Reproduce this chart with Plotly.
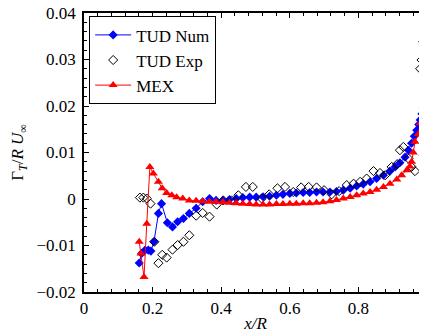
import plotly.graph_objects as go

# TUD Num (blue filled diamonds with line)
num_x = [0.161, 0.168, 0.178, 0.1875, 0.195, 0.204, 0.217, 0.226, 0.243, 0.258, 0.273, 0.290, 0.307,
         0.327, 0.346, 0.366, 0.385, 0.405, 0.424, 0.444, 0.463, 0.483, 0.502, 0.522, 0.541, 0.561,
         0.580, 0.600, 0.619, 0.639, 0.658, 0.678, 0.697, 0.717, 0.736, 0.756, 0.776, 0.795, 0.814,
         0.834, 0.853, 0.873, 0.892, 0.907, 0.921, 0.936, 0.946, 0.955, 0.963, 0.970, 0.976, 0.980,
         0.985, 0.989, 0.992, 0.995]
num_y = [-0.01375, -0.0117, -0.011, -0.011, -0.0112, -0.0092, -0.0031, -0.001, -0.0051, -0.006,
         -0.0049, -0.0042, -0.0031, -0.002, -0.0006, 0.0001, -0.0003, -0.0003, -0.0001, 0.0001,
         0.0003, 0.0004, 0.0004, 0.0005, 0.0006, 0.0008, 0.0010, 0.0012, 0.0013, 0.0014, 0.0014,
         0.0015, 0.0015, 0.0015, 0.0016, 0.0019, 0.0023, 0.0028, 0.0032, 0.0037, 0.0044, 0.0051,
         0.006, 0.0069, 0.0078, 0.009, 0.0105, 0.012, 0.0135, 0.0148, 0.016, 0.017, 0.0183, 0.0195,
         0.021, 0.0222]

# TUD Exp (open black diamonds)
exp_x = [0.163, 0.173, 0.183, 0.194, 0.205, 0.217, 0.228, 0.241, 0.258, 0.273, 0.290, 0.307, 0.327,
         0.346, 0.366, 0.387, 0.406, 0.430, 0.450, 0.472, 0.492, 0.518, 0.540, 0.564, 0.586, 0.610,
         0.633, 0.655, 0.678, 0.700, 0.722, 0.744, 0.766, 0.786, 0.805, 0.824, 0.844, 0.863, 0.878,
         0.897, 0.913, 0.921, 0.931, 0.946, 0.955, 0.965, 0.980, 0.984, 0.989, 0.994, 0.990, 0.990]
exp_y = [0.0003, 0.0003, 0.0001, -0.001, -0.0092, -0.0138, -0.012, -0.0126, -0.0109, -0.0099,
         -0.0092, -0.0078, -0.0036, -0.003, -0.0038, -0.0012, -0.0003, -0.0003, 0.0008, 0.0026,
         0.0026, 0.0001, 0.001, 0.0023, 0.0026, 0.0015, 0.0025, 0.0026, 0.0025, 0.0019, 0.001,
         0.0017, 0.003, 0.0033, 0.0037, 0.0044, 0.006, 0.0056, 0.0051, 0.0069, 0.0075, 0.0105,
         0.0112, 0.0087, 0.0069, 0.006, 0.028, 0.0299, 0.0338, 0.0327, 0.0277, 0.0094]

# MEX (red filled triangles with line)
mex_x = [0.161, 0.166, 0.175, 0.183, 0.192, 0.202, 0.217, 0.228, 0.241, 0.256, 0.270, 0.288, 0.307,
         0.327, 0.346, 0.366, 0.385, 0.405, 0.424, 0.444, 0.463, 0.483, 0.502, 0.522, 0.541, 0.561,
         0.580, 0.600, 0.619, 0.639, 0.658, 0.678, 0.697, 0.717, 0.736, 0.756, 0.776, 0.795, 0.814,
         0.834, 0.853, 0.873, 0.892, 0.912, 0.926, 0.941, 0.950, 0.955, 0.960, 0.965, 0.975, 0.980,
         0.989, 0.995]
mex_y = [-0.0092, -0.0117, -0.0168, -0.0053, 0.0069, 0.0055, 0.0037, 0.0023, 0.0013, 0.0008,
         0.0004, 0.0001, -0.0003, -0.0004, -0.0005, -0.0006, -0.0006, -0.0007, -0.0008, -0.0009,
         -0.0010, -0.0011, -0.0012, -0.0012, -0.0012, -0.0011, -0.0011, -0.0010, -0.0010, -0.0009,
         -0.0009, -0.0008, -0.0007, -0.0005, -0.0002, 0.0001, 0.00045, 0.0008, 0.0012, 0.0015,
         0.0020, 0.0026, 0.0033, 0.0042, 0.0051, 0.0062, 0.0070, 0.0080, 0.0100, 0.0123, 0.0140,
         0.0163, 0.0170, 0.0120]

x_ticks = [0, 0.2, 0.4, 0.6, 0.8, 1]
x_labels = ["0", "0.2", "0.4", "0.6", "0.8", "1"]
y_ticks = [-0.02, -0.01, 0, 0.01, 0.02, 0.03, 0.04]
y_labels = ["\u22120.02", "\u22120.01", "0", "0.01", "0.02", "0.03", "0.04"]

FONT = "Liberation Serif"
tick_font = dict(family=FONT, size=17, color="black")

fig = go.Figure()
fig.add_trace(go.Scatter(x=num_x, y=num_y, mode="lines+markers", name="TUD Num",
                         line=dict(color="#0000ff", width=1),
                         marker=dict(symbol="diamond", size=7, color="#0000ff")))
fig.add_trace(go.Scatter(x=exp_x, y=exp_y, mode="markers", name="TUD Exp",
                         marker=dict(symbol="diamond-open", size=7, color="black",
                                     line=dict(width=1, color="black"))))
fig.add_trace(go.Scatter(x=mex_x, y=mex_y, mode="lines+markers", name="MEX",
                         line=dict(color="#ff0000", width=1),
                         marker=dict(symbol="triangle-up", size=8, color="#ff0000")))

axis_common = dict(
    showgrid=False, zeroline=False, showline=True, linecolor="black", linewidth=1.5,
    mirror="ticks", ticks="inside", ticklen=5, tickcolor="black", tickwidth=1,
    automargin=False, ticklabeloverflow="allow",
)

fig.update_xaxes(range=[0, 1], tickmode="array", tickvals=x_ticks, ticktext=x_labels,
                 tickfont=tick_font,
                 minor=dict(dtick=0.04, ticks="inside", ticklen=3, tickcolor="black"),
                 title=dict(text="<i>x/R</i>", font=dict(family=FONT, size=17, color="black"), standoff=0),
                 **axis_common)
fig.update_yaxes(range=[-0.02, 0.04], tickmode="array", tickvals=y_ticks, ticktext=y_labels,
                 tickfont=tick_font,
                 minor=dict(dtick=0.002, ticks="inside", ticklen=3, tickcolor="black"),
                 ticklabelstandoff=3,
                 title=dict(text="\u0393<sub><i>T</i></sub>/<i>R U</i><sub>\u221e</sub>",
                            font=dict(family=FONT, size=17, color="black"), standoff=10),
                 **axis_common)

# page body has an 8px margin, so the figure is offset by 8px
fig.update_layout(
    width=427, height=333,
    margin=dict(l=76, r=8, t=5, b=49, pad=0),
    paper_bgcolor="white", plot_bgcolor="white",
    font=dict(family=FONT, size=17, color="black"),
    showlegend=True,
    legend=dict(x=0.015, y=0.988, xanchor="left", yanchor="top",
                bgcolor="white", bordercolor="black", borderwidth=1,
                font=dict(family=FONT, size=17, color="black"),
                tracegroupgap=0, itemwidth=36),
)

fig.write_html("out.html")
